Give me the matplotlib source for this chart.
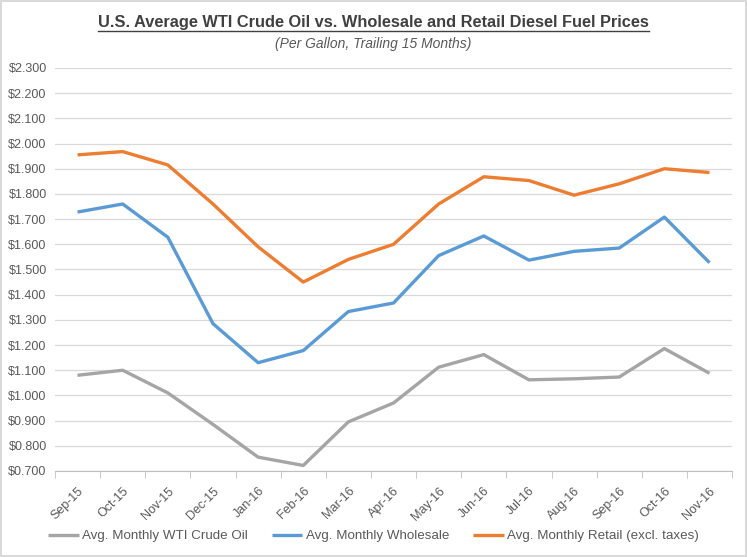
import numpy as np
import matplotlib.pyplot as plt
from matplotlib.ticker import FuncFormatter, FixedLocator

plt.rcParams['font.family'] = ['Liberation Sans', 'DejaVu Sans']

months = ['Sep-15', 'Oct-15', 'Nov-15', 'Dec-15', 'Jan-16', 'Feb-16', 'Mar-16', 'Apr-16',
          'May-16', 'Jun-16', 'Jul-16', 'Aug-16', 'Sep-16', 'Oct-16', 'Nov-16']
wti = [1.080, 1.100, 1.010, 0.885, 0.755, 0.722, 0.895, 0.970,
       1.112, 1.162, 1.062, 1.066, 1.073, 1.186, 1.088]
wholesale = [1.728, 1.760, 1.628, 1.285, 1.130, 1.178, 1.333, 1.367,
             1.555, 1.633, 1.537, 1.572, 1.585, 1.708, 1.527]
retail = [1.955, 1.968, 1.915, 1.760, 1.590, 1.450, 1.540, 1.600,
          1.760, 1.868, 1.853, 1.795, 1.840, 1.900, 1.885]

W, H = 747, 557
fig = plt.figure(figsize=(W / 100, H / 100), dpi=100)
fig.patch.set_edgecolor('#d9d9d9')
fig.patch.set_linewidth(1.5)
ax = fig.add_axes([0.0736, 0.1544, 0.9064, 0.7236])

x = np.arange(len(months))
ax.plot(x, wti, color='#a5a5a5', lw=2.4, label='Avg. Monthly WTI Crude Oil', solid_capstyle='butt')
ax.plot(x, wholesale, color='#5b9bd5', lw=2.4, label='Avg. Monthly Wholesale', solid_capstyle='butt')
ax.plot(x, retail, color='#ed7d31', lw=2.4, label='Avg. Monthly Retail (excl. taxes)', solid_capstyle='butt')

ax.set_xlim(-0.5, len(months) - 0.5)
ax.set_ylim(0.7, 2.3)
ax.set_yticks(np.arange(0.7, 2.31, 0.1))
ax.yaxis.set_major_formatter(FuncFormatter(lambda v, p: '${:.3f}'.format(v)))
ax.grid(axis='y', color='#d9d9d9', lw=0.9)
ax.set_axisbelow(True)

ax.set_xticks(x)
ax.set_xticklabels(months, rotation=45, ha='right', rotation_mode='anchor')
ax.xaxis.set_minor_locator(FixedLocator(np.arange(-0.5, len(months), 1.0)))
ax.tick_params(axis='x', which='major', length=0, pad=10, labelsize=9, labelcolor='#595959')
ax.tick_params(axis='x', which='minor', length=5, color='#bfbfbf')
ax.tick_params(axis='y', length=0, labelsize=9, labelcolor='#595959', pad=6)

for s in ['top', 'right', 'left']:
    ax.spines[s].set_visible(False)
ax.spines['bottom'].set_color('#bfbfbf')

title = fig.text(0.5, 1 - 22 / H, 'U.S. Average WTI Crude Oil vs. Wholesale and Retail Diesel Fuel Prices',
                 ha='center', va='center', fontsize=11.8, fontweight='bold', color='#404040')
fig.text(0.5, 1 - 44 / H, '(Per Gallon, Trailing 15 Months)', ha='center', va='center',
         fontsize=10, style='italic', color='#595959')

# underline the title under its drawn extent
fig.canvas.draw()
bb = title.get_window_extent()
y_line = (bb.y0 - 1.5) / H
fig.add_artist(plt.Line2D([bb.x0 / W, bb.x1 / W], [y_line, y_line], color='#404040', lw=1))

leg = fig.legend(loc='center', bbox_to_anchor=(0.5, 1 - 536 / H), ncol=3, frameon=False,
                 fontsize=9.6, handlelength=2.3, handletextpad=0.25, columnspacing=1.8)
for t in leg.get_texts():
    t.set_color('#595959')

fig.savefig('out.png', dpi=100, edgecolor=fig.get_edgecolor())
